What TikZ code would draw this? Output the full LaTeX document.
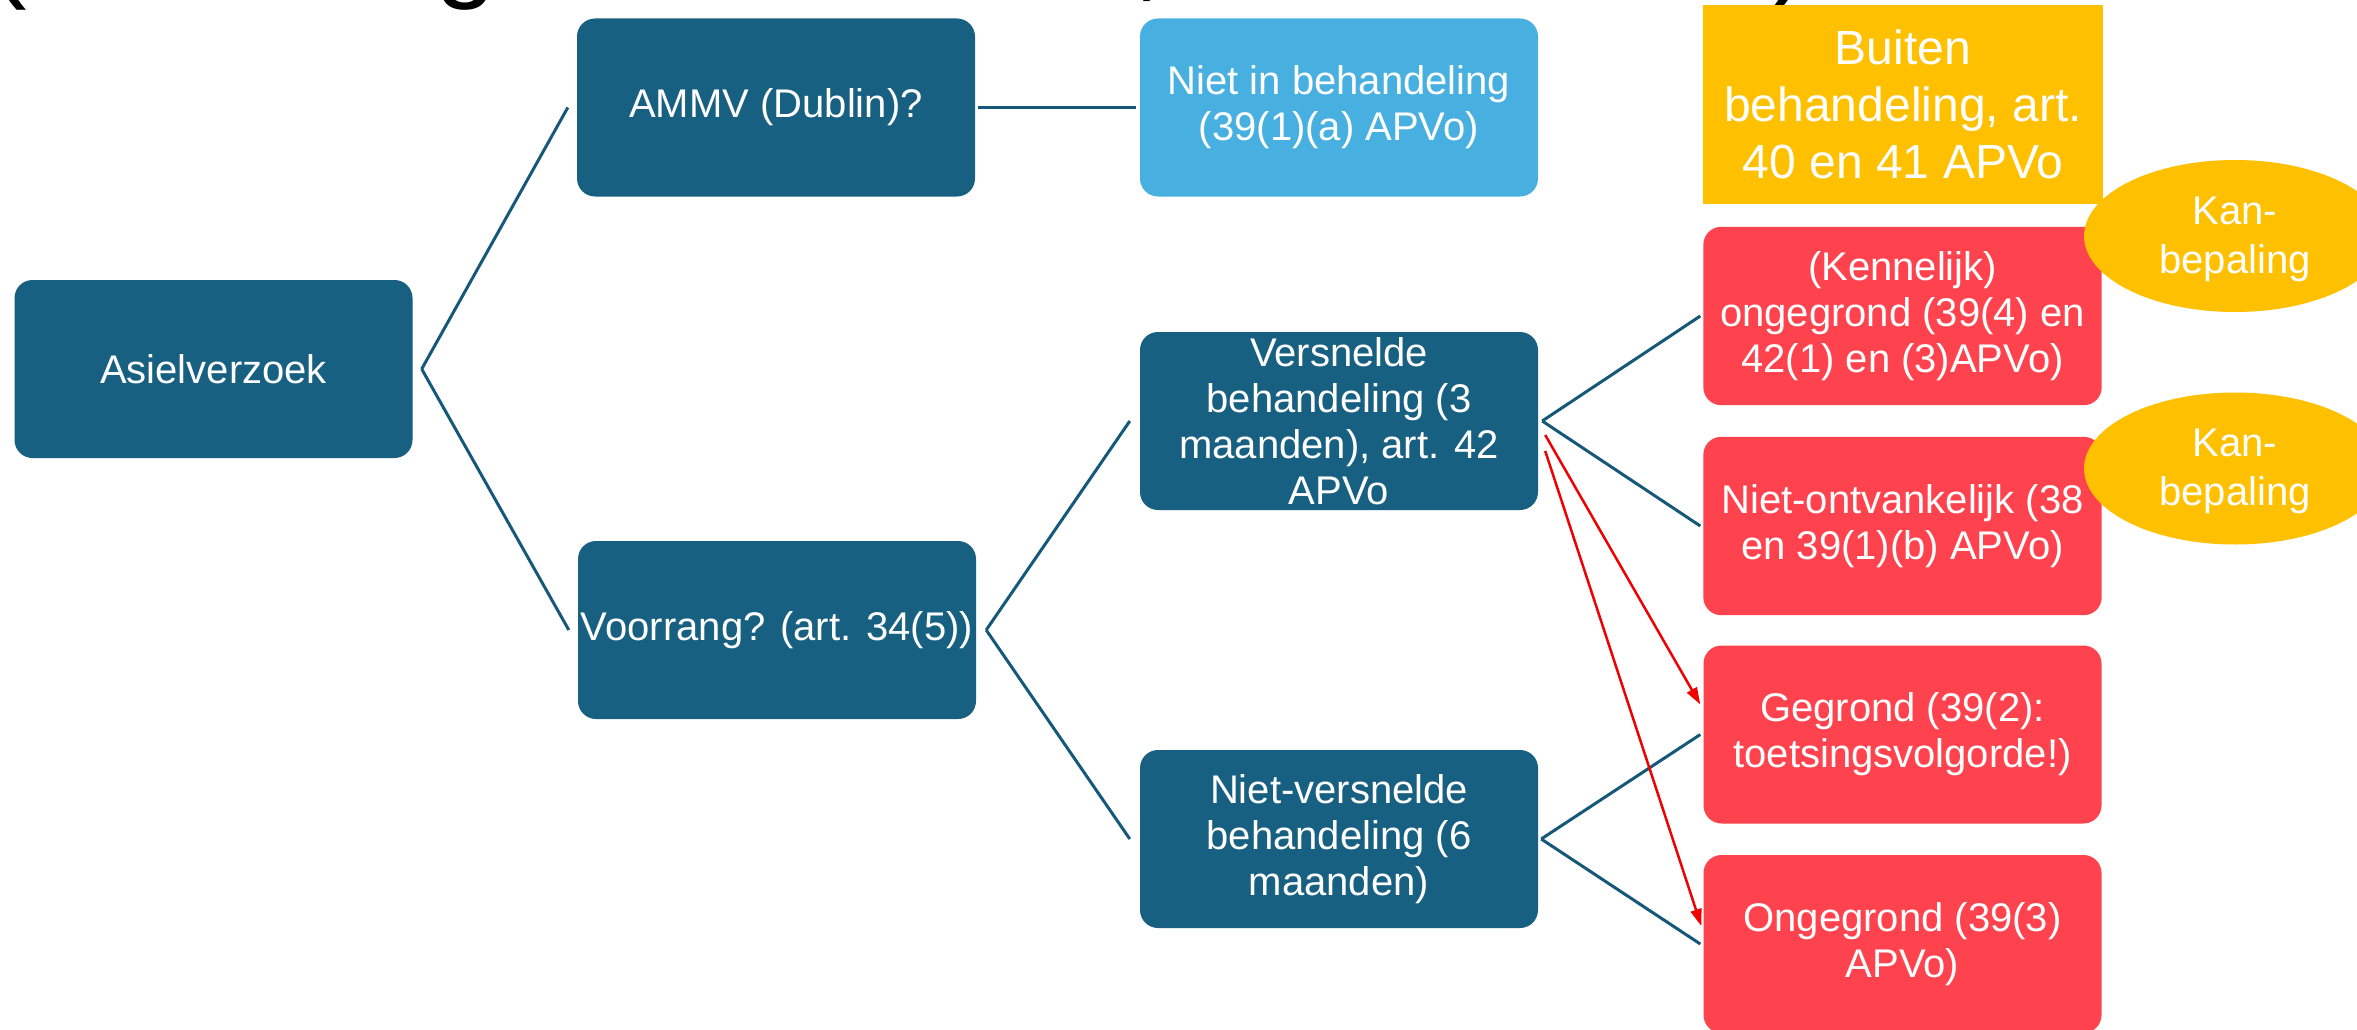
\documentclass[tikz,border=0pt]{standalone}
\usepackage{fontspec}
\setmainfont{Liberation Sans}
\usetikzlibrary{arrows.meta,shapes.geometric,backgrounds}
\definecolor{boxblue}{RGB}{24,96,130}
\definecolor{lightbox}{RGB}{72,176,224}
\definecolor{goldbox}{RGB}{255,192,0}
\definecolor{redbox}{RGB}{255,67,78}
\definecolor{linkblue}{RGB}{22,88,122}
\definecolor{arrowred}{RGB}{240,0,0}
\begin{document}
\begin{tikzpicture}[x=1pt,y=-1pt,
  box/.style={rounded corners=18pt, minimum width=398pt, minimum height=178pt,
    inner sep=0pt, align=center, text=white, font=\fontsize{40}{46}\selectfont},
  darkbox/.style={box, fill=boxblue},
  lightnode/.style={box, fill=lightbox},
  rednode/.style={box, fill=redbox},
  goldnode/.style={box, rounded corners=0pt, fill=goldbox, minimum width=400pt,
    minimum height=199pt, font=\fontsize{48}{57}\selectfont},
  kan/.style={ellipse, fill=goldbox, minimum width=302pt, minimum height=152pt, inner sep=0pt},
  kantxt/.style={inner sep=0pt, align=center, text=white, font=\fontsize{40}{49}\selectfont},
  frag/.style={inner sep=0pt, anchor=base west, text=black, font=\fontsize{110}{130}\selectfont},
  link/.style={draw=linkblue, line width=3pt},
  redarrow/.style={draw=arrowred, line width=2.5pt, -{Triangle[length=17pt,width=11pt]}}
]
\useasboundingbox (0,0) rectangle (2357,1030);
\clip (0,0) rectangle (2357,1030);

% cut-off title fragments
\node[frag] (t1) at (-10,-12) {(};
\node[frag] (t2) at (435,-12) {g};
\node[frag] (t3) at (1133,-12) {,};
\node[frag] (t4) at (1770,-12) {)};

% boxes
\node[darkbox] (asiel) at (213.5,369) {Asielverzoek};
\node[darkbox] (ammv) at (776,107.5) {AMMV (Dublin)?};
\node[lightnode] (nib) at (1339,107.5) {Niet in behandeling\\(39(1)(a) APVo)};
\node[goldnode] (buiten) at (1903,104.5) {Buiten\\behandeling, art.\\40 en 41 APVo};
\node[darkbox] (voor) at (777,630) {Voorrang? (art. 34(5))};
\node[darkbox] (vers) at (1339,421) {Versnelde\\behandeling (3\\maanden), art. 42\\APVo};
\node[darkbox] (nvers) at (1339,839) {Niet-versnelde\\behandeling (6\\maanden)};
\node[box] (kenn) at (1902.5,316) {(Kennelijk)\\ongegrond (39(4) en\\42(1) en (3)APVo)};
\node[box] (nont) at (1902.5,526) {Niet-ontvankelijk (38\\en 39(1)(b) APVo)};
\node[rednode] (geg) at (1902.5,734.5) {Gegrond (39(2):\\toetsingsvolgorde!)};
\node[rednode] (ong) at (1902.5,944) {Ongegrond (39(3)\\APVo)};

\begin{scope}[on background layer]
  \fill[white] (0,0) rectangle (2357,1030);
  \fill[redbox, rounded corners=18pt] (kenn.south west) rectangle (kenn.north east);
  \fill[redbox, rounded corners=18pt] (nont.south west) rectangle (nont.north east);
  \node[kan] (kan1) at (2235,236) {};
  \node[kan] (kan2) at (2235,468.5) {};
  \node[kantxt] (kan1t) at ([yshift=-3pt]kan1.center) {Kan-\\bepaling};
  \node[kantxt] (kan2t) at ([yshift=-3pt]kan2.center) {Kan-\\bepaling};
\end{scope}

% connectors
\draw[link] ([xshift=9pt]asiel.east) -- ([xshift=-9pt]ammv.west);
\draw[link] ([xshift=9pt]asiel.east) -- ([xshift=-9pt]voor.west);
\draw[link] ([xshift=3pt]ammv.east) -- ([xshift=-4pt]nib.west);
\draw[link] ([xshift=10pt]voor.east) -- ([xshift=-10pt]vers.west);
\draw[link] ([xshift=10pt]voor.east) -- ([xshift=-10pt]nvers.west);
\draw[link] ([xshift=4pt]vers.east) -- ([xshift=-3pt]kenn.west);
\draw[link] ([xshift=4pt]vers.east) -- ([xshift=-3pt]nont.west);
\draw[link] ([xshift=3pt]nvers.east) -- ([xshift=-3pt]geg.west);
\draw[link] ([xshift=3pt]nvers.east) -- ([xshift=-3pt]ong.west);
\draw[redarrow] ([xshift=7pt,yshift=-14pt]vers.east) -- ([xshift=-3pt,yshift=30pt]geg.west);
\draw[redarrow] ([xshift=7pt,yshift=-30pt]vers.east) -- ([xshift=-2pt,yshift=18pt]ong.west);
\end{tikzpicture}
\end{document}
